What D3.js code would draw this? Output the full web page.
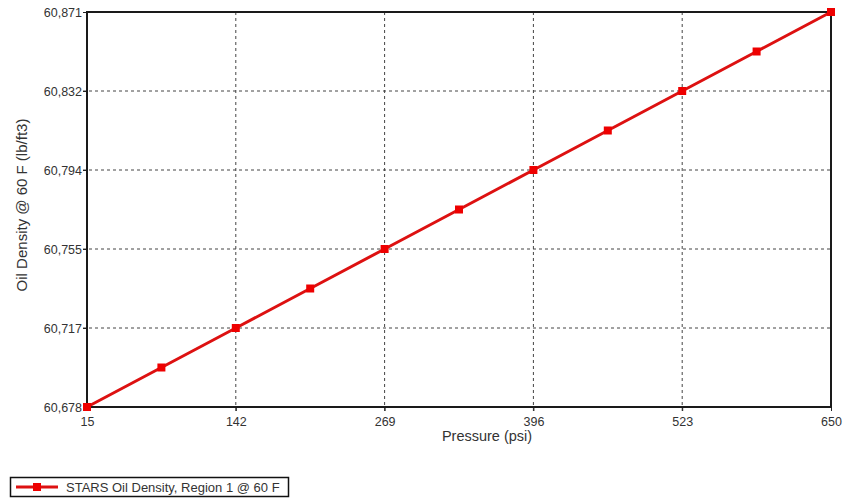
<!DOCTYPE html>
<html><head><meta charset="utf-8">
<script src="https://cdn.jsdelivr.net/npm/d3@7"></script>
<style>body{margin:0;background:#fff;}svg{display:block;font-family:Arial,"Liberation Sans",sans-serif;}</style>
</head><body>
<svg id="c" width="843" height="499"></svg>
<script>
const pressure = [15, 78.5, 142, 205.5, 269, 332.5, 396, 459.5, 523, 586.5, 650];
const density = [60.678, 60.6973, 60.7166, 60.7359, 60.7552, 60.7745, 60.7938, 60.8131, 60.8324, 60.8517, 60.871];
const xTicks = [15, 142, 269, 396, 523, 650];
const yTicks = [60.678, 60.7166, 60.7552, 60.7938, 60.8324, 60.871];
const seriesName = "STARS Oil Density, Region 1 @ 60 F";

const svg = d3.select("#c");
const m = {l: 87, t: 12, r: 831, b: 407};
const x = d3.scaleLinear().domain([15, 650]).range([m.l, m.r]);
const y = d3.scaleLinear().domain([60.678, 60.871]).range([m.b, m.t]);
const fmt = v => d3.format(".3f")(v).replace(".", ",");

// grid
const g = svg.append("g");
g.selectAll(".gx").data(xTicks.slice(1, -1)).join("line")
  .attr("x1", d => x(d)).attr("x2", d => x(d)).attr("y1", m.t).attr("y2", m.b + 4)
  .attr("stroke", "#444").attr("stroke-dasharray", "3,3").attr("stroke-width", 1);
g.selectAll(".gy").data(yTicks.slice(1, -1)).join("line")
  .attr("y1", d => y(d)).attr("y2", d => y(d)).attr("x1", m.l - 4).attr("x2", m.r)
  .attr("stroke", "#444").attr("stroke-dasharray", "3,3").attr("stroke-width", 1);

// axes
const xa = svg.append("g").attr("transform", `translate(0,${m.b})`)
  .call(d3.axisBottom(x).tickValues(xTicks).tickFormat(d3.format("d")).tickSize(4).tickSizeOuter(0));
const ya = svg.append("g").attr("transform", `translate(${m.l},0)`)
  .call(d3.axisLeft(y).tickValues(yTicks).tickFormat(fmt).tickSize(4).tickSizeOuter(0));
[xa, ya].forEach(a => {
  a.select(".domain").remove();
  a.selectAll("line").attr("stroke", "#222");
  a.selectAll("text").attr("fill", "#333").style("font-size", "12.5px").style("font-family", "Arial, 'Liberation Sans', sans-serif");
});
xa.selectAll("text").attr("dy", "0.71em").attr("y", 10);
ya.selectAll("text").attr("x", -5);

// frame
svg.append("rect").attr("x", m.l).attr("y", m.t).attr("width", m.r - m.l).attr("height", m.b - m.t)
  .attr("fill", "none").attr("stroke", "#1a1a1a").attr("stroke-width", 2);

// labels
svg.append("text").attr("x", 487).attr("y", 441).attr("text-anchor", "middle")
  .attr("fill", "#333").style("font-size", "14.5px").text("Pressure (psi)");
svg.append("text").attr("transform", `translate(27,205) rotate(-90)`).attr("text-anchor", "middle")
  .attr("fill", "#333").style("font-size", "15px").text("Oil Density @ 60 F (lb/ft3)");

// series
const pts = pressure.map((p, i) => [p, density[i]]);
svg.append("path").datum(pts)
  .attr("d", d3.line().x(d => x(d[0])).y(d => y(d[1])))
  .attr("fill", "none").attr("stroke", "#dd1111").attr("stroke-width", 3);
svg.selectAll(".pt").data(pts).join("rect")
  .attr("x", d => x(d[0]) - 4).attr("y", d => y(d[1]) - 4).attr("width", 8).attr("height", 8)
  .attr("fill", "#ee0000");

// legend
const lg = svg.append("g");
lg.append("rect").attr("x", 10.5).attr("y", 477.5).attr("width", 278).attr("height", 19)
  .attr("fill", "#fff").attr("stroke", "#111").attr("stroke-width", 1.5);
lg.append("line").attr("x1", 16).attr("x2", 58).attr("y1", 487).attr("y2", 487)
  .attr("stroke", "#dd1111").attr("stroke-width", 3);
lg.append("rect").attr("x", 33).attr("y", 483).attr("width", 8).attr("height", 8).attr("fill", "#ee0000");
lg.append("text").attr("x", 66).attr("y", 492).attr("fill", "#333").style("font-size", "13px").text(seriesName);
</script>
</body></html>
